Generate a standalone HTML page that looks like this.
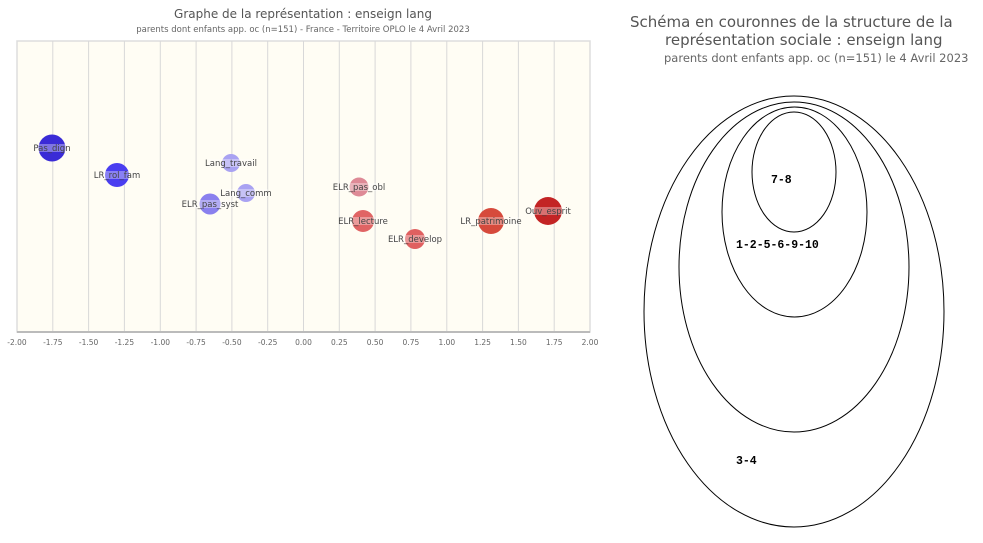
<!DOCTYPE html>
<html><head><meta charset="utf-8"><style>
body{margin:0;background:#fff;width:983px;height:539px;overflow:hidden;font-family:"DejaVu Sans","Liberation Sans",sans-serif}
</style></head><body>
<svg width="983" height="539" xmlns="http://www.w3.org/2000/svg" font-family="DejaVu Sans, Liberation Sans, sans-serif">
<text x="303" y="18" text-anchor="middle" font-size="12" fill="#555">Graphe de la représentation : enseign lang</text>
<text x="303" y="32" text-anchor="middle" font-size="8.5" fill="#666">parents dont enfants app. oc (n=151) - France - Territoire OPLO le 4 Avril 2023</text>
<rect x="17" y="41" width="573" height="291" fill="#fffdf4" stroke="#ddd" stroke-width="1.5"/>
<g stroke="#d8d8d8" stroke-width="1">
<line x1="52.8" y1="41" x2="52.8" y2="332"/><line x1="88.6" y1="41" x2="88.6" y2="332"/><line x1="124.4" y1="41" x2="124.4" y2="332"/><line x1="160.3" y1="41" x2="160.3" y2="332"/><line x1="196.1" y1="41" x2="196.1" y2="332"/><line x1="231.9" y1="41" x2="231.9" y2="332"/><line x1="267.7" y1="41" x2="267.7" y2="332"/><line x1="303.5" y1="41" x2="303.5" y2="332"/><line x1="339.3" y1="41" x2="339.3" y2="332"/><line x1="375.1" y1="41" x2="375.1" y2="332"/><line x1="410.9" y1="41" x2="410.9" y2="332"/><line x1="446.8" y1="41" x2="446.8" y2="332"/><line x1="482.6" y1="41" x2="482.6" y2="332"/><line x1="518.4" y1="41" x2="518.4" y2="332"/><line x1="554.2" y1="41" x2="554.2" y2="332"/>
</g>
<line x1="17" y1="332" x2="590" y2="332" stroke="#bbb" stroke-width="2"/>
<g font-size="7.5" fill="#666" text-anchor="middle">
<text x="17" y="345">-2.00</text><text x="52.8" y="345">-1.75</text><text x="88.6" y="345">-1.50</text><text x="124.4" y="345">-1.25</text><text x="160.3" y="345">-1.00</text><text x="196.1" y="345">-0.75</text><text x="231.9" y="345">-0.50</text><text x="267.7" y="345">-0.25</text><text x="303.5" y="345">0.00</text><text x="339.3" y="345">0.25</text><text x="375.1" y="345">0.50</text><text x="410.9" y="345">0.75</text><text x="446.8" y="345">1.00</text><text x="482.6" y="345">1.25</text><text x="518.4" y="345">1.50</text><text x="554.2" y="345">1.75</text><text x="590" y="345">2.00</text>
</g>
<g>
<circle cx="52" cy="148" r="13.5" fill="#3a2bd6"/>
<circle cx="117" cy="175" r="12" fill="#4a3ef0"/>
<circle cx="231" cy="163" r="9" fill="#a9a2f2"/>
<circle cx="246" cy="193" r="9" fill="#a9a2f2"/>
<circle cx="210" cy="204" r="10.5" fill="#8a80ee"/>
<circle cx="359" cy="187" r="9.5" fill="#de8a96"/>
<circle cx="363" cy="221" r="11" fill="#e06464"/>
<circle cx="415" cy="239" r="10" fill="#e06060"/>
<circle cx="491" cy="221" r="13" fill="#d64a3c"/>
<circle cx="548" cy="211" r="14" fill="#c32424"/>
</g>
<g fill="#fff" opacity="0.35">
<rect x="36" y="144" width="32" height="8"/><rect x="96" y="171" width="42" height="8"/><rect x="208" y="159" width="46" height="8"/><rect x="224" y="189" width="44" height="8"/><rect x="186" y="200" width="48" height="8"/><rect x="336" y="183" width="46" height="8"/><rect x="340" y="217" width="46" height="8"/><rect x="390" y="235" width="50" height="8"/><rect x="463" y="217" width="56" height="8"/><rect x="528" y="207" width="40" height="8"/>
</g>
<g font-size="8.5" fill="#444" text-anchor="middle">
<text x="52" y="151">Pas_dign</text><text x="117" y="178">LR_rol_fam</text><text x="231" y="166">Lang_travail</text><text x="246" y="196">Lang_comm</text><text x="210" y="207">ELR_pas_syst</text><text x="359" y="190">ELR_pas_obl</text><text x="363" y="224">ELR_lecture</text><text x="415" y="242">ELR_develop</text><text x="491" y="224">LR_patrimoine</text><text x="548" y="214">Ouv_esprit</text>
</g>
<text x="630" y="27" font-size="15" fill="#555">Schéma en couronnes de la structure de la</text>
<text x="665" y="45" font-size="15" fill="#555">représentation sociale : enseign lang</text>
<text x="664" y="62" font-size="11.5" fill="#666">parents dont enfants app. oc (n=151) le 4 Avril 2023</text>
<g fill="none" stroke="#000" stroke-width="1">
<ellipse cx="794" cy="311.5" rx="150" ry="215.5"/>
<ellipse cx="794" cy="267" rx="115" ry="165"/>
<ellipse cx="794.5" cy="212" rx="72.5" ry="105"/>
<ellipse cx="794" cy="172" rx="42" ry="60"/>
</g>
<g font-family="Liberation Mono, DejaVu Sans Mono, monospace" font-size="11.5" font-weight="bold" fill="#000">
<text x="771" y="183">7-8</text>
<text x="736" y="248">1-2-5-6-9-10</text>
<text x="736" y="464">3-4</text>
</g>
</svg>
</body></html>
